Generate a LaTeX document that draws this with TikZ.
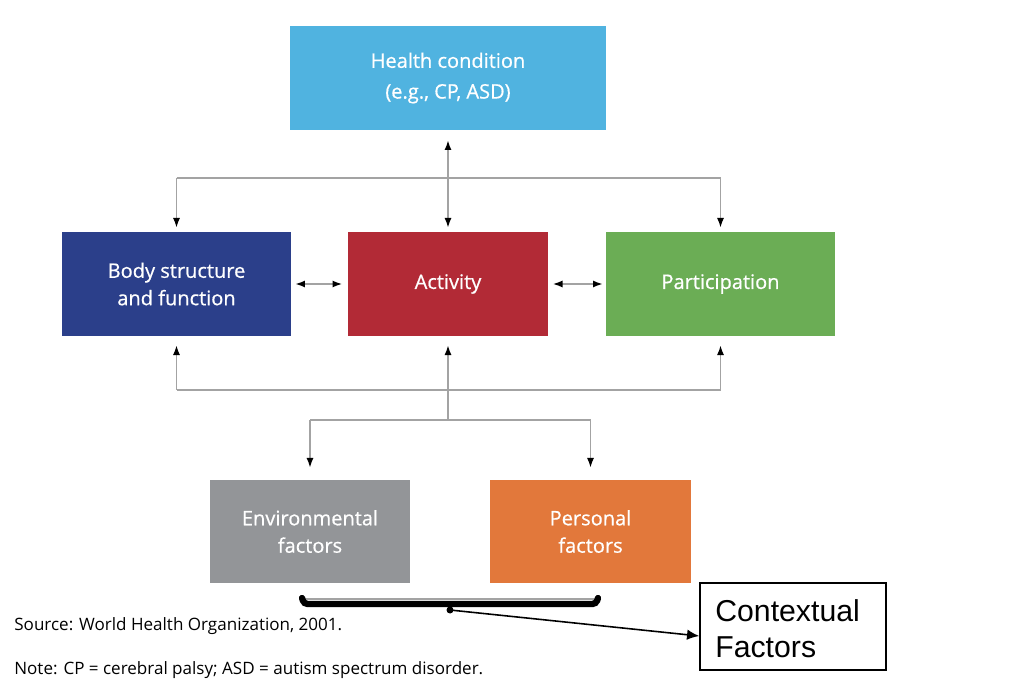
\documentclass[tikz,border=0pt]{standalone}
\usepackage{fontspec}
\setmainfont{Open Sans}
\newfontfamily\boxfont[FakeBold=0.6]{Open Sans}
\newfontfamily\arialfont{Liberation Sans}
\usetikzlibrary{arrows.meta}
\definecolor{hcblue}{HTML}{50B3E0}
\definecolor{bodyblue}{HTML}{2B3F8A}
\definecolor{actred}{HTML}{B22A36}
\definecolor{partgreen}{HTML}{6BAD55}
\definecolor{envgray}{HTML}{939598}
\definecolor{persorange}{HTML}{E2783B}
\definecolor{linkgray}{HTML}{A3A3A3}

\begin{document}
\begin{tikzpicture}[x=0.02cm,y=-0.02cm]
	\tikzstyle{box}=[minimum height=2.08cm, text=white, align=center, inner sep=0pt,
		font=\boxfont\fontsize{11.4}{15.6}\selectfont]
	\tikzstyle{link}=[draw=linkgray, line width=0.9pt]
	\tikzstyle{tip}=[-{Latex[black,length=5.5pt,width=4pt]}]
	\tikzstyle{both}=[{Latex[black,length=5.5pt,width=4pt]}-{Latex[black,length=5.5pt,width=4pt]}]
	\tikzstyle{note}=[anchor=west, inner sep=0pt, font=\fontsize{9.7}{11}\selectfont]
	
	\useasboundingbox (0,0) rectangle (1016,688);
	
	% boxes
	\node[box, fill=hcblue, minimum width=6.32cm, font=\boxfont\fontsize{11.4}{17.5}\selectfont] (hc) at (448,78) {Health condition\\(e.g., CP, ASD)};
	\node[box, fill=bodyblue, minimum width=4.58cm] (body) at (176.5,284) {Body structure\\and function};
	\node[box, fill=actred, minimum width=4.02cm] (act) at (448,284) {Activity};
	\node[box, fill=partgreen, minimum width=4.58cm] (part) at (720.5,284) {Participation};
	\node[box, fill=envgray, minimum width=4.0cm, minimum height=2.06cm] (env) at (310,531.5) {Environmental\\factors};
	\node[box, fill=persorange, minimum width=4.02cm, minimum height=2.06cm] (pers) at (590.5,531.5) {Personal\\factors};
	
	% top connectors
	\coordinate (top) at (448,178);
	\draw[link, both, shorten <=0.2cm, shorten >=0.08cm] (hc.south) -- (act.north);
	\draw[link] (body.north |- top) -- (part.north |- top);
	\draw[link, tip, shorten >=0.08cm] (body.north |- top) -- (body.north);
	\draw[link, tip, shorten >=0.08cm] (part.north |- top) -- (part.north);
	
	% side connectors
	\draw[link, both, shorten <=0.08cm, shorten >=0.1cm] (body.east) -- (act.west);
	\draw[link, both, shorten <=0.08cm, shorten >=0.06cm] (act.east) -- (part.west);
	
	% bottom connectors
	\coordinate (bot) at (448,390);
	\coordinate (fork) at (448,420);
	\draw[link] (body.south |- bot) -- (part.south |- bot);
	\draw[link, tip, shorten >=0.18cm] (body.south |- bot) -- (body.south);
	\draw[link, tip, shorten >=0.18cm] (fork) -- (act.south);
	\draw[link, tip, shorten >=0.18cm] (part.south |- bot) -- (part.south);
	\draw[link] (env.north |- fork) -- (pers.north |- fork);
	\draw[link, tip, shorten >=0.24cm] (env.north |- fork) -- (env.north);
	\draw[link, tip, shorten >=0.24cm] (pers.north |- fork) -- (pers.north);
	
	% bracket under the factors
	\draw[linkgray, line width=1pt] (304,599) -- (596,599);
	\draw[line width=3.6pt, line cap=round, rounded corners=2pt] (302,598) -- (304,604) -- (596,604) -- (598,598);
	\coordinate (brace) at (450,610);
	\fill (brace) circle (3.5);
	
	% contextual factors
	\node[draw, line width=0.8pt, minimum width=3.72cm, minimum height=1.74cm, inner sep=0pt] (ctx) at (793,626.5) {};
	\node[anchor=north west, align=left, inner sep=0pt, font=\arialfont\fontsize{17.2}{20.4}\selectfont] (ctxt) at (715,599) {Contextual\\Factors};
	\draw[line width=0.9pt, -{Latex[length=7pt,width=6pt]}] (brace) -- ([yshift=-0.19cm]ctx.west);
	
	% notes
	\node[note] (src) at (14,626) {Source: World Health Organization, 2001.};
	\node[note] (nt) at (14,670) {Note: CP = cerebral palsy; ASD = autism spectrum disorder.};
\end{tikzpicture}
\end{document}
